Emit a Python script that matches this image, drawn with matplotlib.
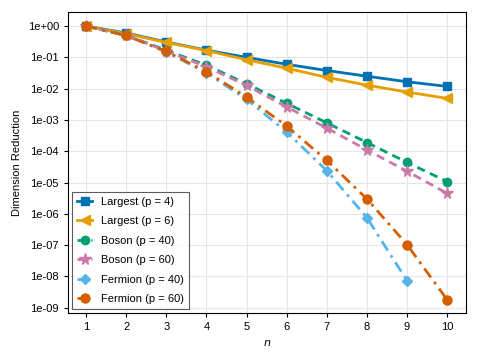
import matplotlib.pyplot as plt

# Data
n = [1, 2, 3, 4, 5, 6, 7, 8, 9, 10]
largest_p4 = [1.0, 0.6, 0.31, 0.17, 0.10, 0.06, 0.038, 0.025, 0.0166, 0.0118]
largest_p6 = [1.0, 0.57, 0.30, 0.165, 0.084, 0.045, 0.023, 0.013, 0.0078, 0.0049]
boson_p40 = [1.0, 0.5, 0.17, 0.056, 0.0144, 0.0034, 0.00081, 0.00019, 4.4e-5, 1.07e-5]
boson_p60 = [1.0, 0.5, 0.16, 0.05, 0.0127, 0.0026, 5.5e-4, 1.1e-4, 2.3e-5, 4.5e-6]
n_f40 = [1, 2, 3, 4, 5, 6, 7, 8, 9]
fermion_p40 = [1.0, 0.5, 0.15, 0.032, 0.0046, 4.1e-4, 2.4e-5, 7.5e-7, 7.3e-9]
fermion_p60 = [1.0, 0.5, 0.155, 0.035, 0.0054, 6.4e-4, 5.1e-5, 3.0e-6, 1.03e-7, 1.8e-9]

yticks = [10.0 ** -k for k in range(10)]
ylabels = ["1e+00"] + ["1e-%02d" % k for k in range(1, 10)]

plt.rcParams['font.family'] = ['Liberation Sans', 'DejaVu Sans']

fig = plt.figure(figsize=(4.78, 3.59), dpi=100)
ax = fig.add_axes([68 / 478, 1 - 313 / 359, 398 / 478, 301 / 359])

ax.plot(n, largest_p4, color='#0072B2', linestyle='-', marker='s', markersize=5.5, linewidth=2, label='Largest (p = 4)')
ax.plot(n, largest_p6, color='#E69F00', linestyle='-', marker='<', markersize=6.5, linewidth=2, label='Largest (p = 6)')
ax.plot(n, boson_p40, color='#009E73', linestyle=(0, (3, 2)), marker='o', markersize=6, linewidth=2, label='Boson (p = 40)')
ax.plot(n, boson_p60, color='#CC79A7', linestyle=(0, (3, 2)), marker='*', markersize=8.5, linewidth=2, label='Boson (p = 60)')
ax.plot(n_f40, fermion_p40, color='#56B4E9', linestyle=(0, (4, 2, 1, 2)), marker='D', markersize=5, linewidth=2, label='Fermion (p = 40)')
ax.plot(n, fermion_p60, color='#D55E00', linestyle=(0, (4, 2, 1, 2)), marker='o', markersize=6.5, linewidth=2, label='Fermion (p = 60)')

ax.set_yscale('log')
ax.set_xlim(0.55, 10.47)
ax.set_ylim(10 ** -9.17, 10 ** 0.45)
ax.set_xticks(n)
ax.set_yticks(yticks)
ax.set_yticklabels(ylabels)
ax.minorticks_off()
ax.tick_params(labelsize=8, length=3, width=0.8)
ax.grid(True, color='#e6e6e6', linewidth=0.8)
ax.set_axisbelow(True)
ax.set_xlabel(r'$n$', fontsize=8)
ax.set_ylabel('Dimension Reduction', fontsize=8)

leg = ax.legend(loc='lower left', fontsize=8, fancybox=False, edgecolor='#333333',
                borderaxespad=0.4, handlelength=1.4, labelspacing=0.85)
leg.get_frame().set_linewidth(0.8)

plt.savefig('out.png', dpi=100)
